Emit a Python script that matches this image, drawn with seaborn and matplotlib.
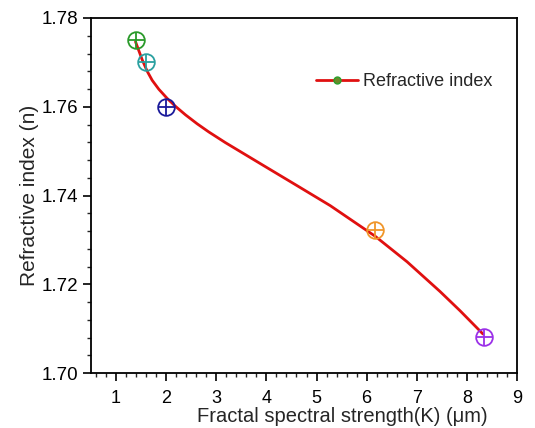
import numpy as np
import pandas as pd
import matplotlib
matplotlib.use("Agg")
import matplotlib.pyplot as plt
from matplotlib.ticker import MultipleLocator, FormatStrFormatter
from matplotlib.lines import Line2D
import seaborn as sns

# measured points
strength = [1.39, 1.59, 1.99, 6.17, 8.34]
refr_index = [1.775, 1.770, 1.760, 1.7322, 1.7081]
point_colors = ["#2a9a2a", "#2aa0a0", "#1a1a9a", "#f0962a", "#9b30e8"]

# smooth fitted curve
curve_k = [1.388, 1.522, 1.622, 1.721, 1.853, 2.020, 2.185, 2.384, 2.618,
           2.849, 3.181, 3.480, 3.938, 4.616, 5.273, 6.169, 6.807, 7.464,
           7.863, 8.321]
curve_n = [1.77466, 1.77058, 1.76799, 1.76596, 1.76395, 1.76188, 1.76010,
           1.75819, 1.75616, 1.75433, 1.75192, 1.74989, 1.74678, 1.74219,
           1.73772, 1.73083, 1.72506, 1.71837, 1.71404, 1.70879]

sns.set_theme(style="ticks")
plt.rcParams["font.family"] = ["Liberation Sans", "DejaVu Sans"]

curve = pd.DataFrame({"K": curve_k, "n": curve_n})

fig = plt.figure(figsize=(5.35, 4.28), dpi=100)
ax = fig.add_axes([91 / 535, 1 - 373 / 428, (517 - 91) / 535, (373 - 18) / 428])

sns.lineplot(data=curve, x="K", y="n", sort=False, color="#e01010", lw=2, ax=ax)

for k, n, c in zip(strength, refr_index, point_colors):
    ax.plot([k], [n], marker="o", ms=12, mfc="none", mec=c, mew=1.3, ls="none")
    ax.plot([k], [n], marker="+", ms=12, mec=c, mew=1.3, ls="none")

ax.set_xlim(0.5, 9)
ax.set_ylim(1.70, 1.78)
ax.xaxis.set_major_locator(MultipleLocator(1))
ax.xaxis.set_minor_locator(MultipleLocator(0.2))
ax.yaxis.set_major_locator(MultipleLocator(0.02))
ax.yaxis.set_minor_locator(MultipleLocator(0.004))
ax.yaxis.set_major_formatter(FormatStrFormatter("%.2f"))
ax.tick_params(which="major", direction="out", length=6, width=1.2, labelsize=13.5, colors="black")
ax.tick_params(which="minor", direction="out", length=3, width=1)
ax.tick_params(axis="x", which="major", pad=6.5, labelsize=13)
ax.tick_params(axis="y", which="major", pad=3)
for s in ax.spines.values():
    s.set_linewidth(1.3)
    s.set_color("black")

ax.set_xlabel("Fractal spectral strength(K) (μm)", fontsize=14.5, labelpad=0)
ax.xaxis.label.set_x(0.589)
ax.set_ylabel("Refractive index (n)", fontsize=15, labelpad=2)

handle = Line2D([0], [0], color="#e01010", lw=2, marker="o", ms=5,
                mfc="#6a8a2a", mec="#2ca02c")
ax.legend([handle], ["Refractive index"], loc="upper right",
          bbox_to_anchor=(0.96, 0.865), frameon=False, fontsize=13,
          handlelength=2.3, handletextpad=0.3, borderaxespad=0)

fig.savefig("out.png", dpi=100)
